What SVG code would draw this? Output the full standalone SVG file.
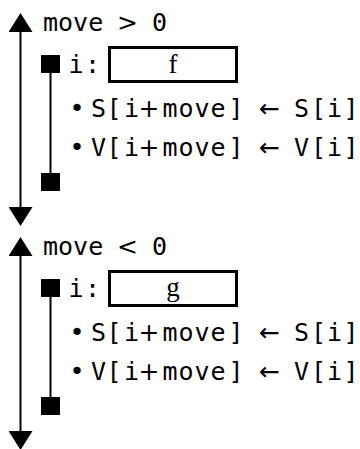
<svg xmlns="http://www.w3.org/2000/svg" width="360" height="449" viewBox="0 0 360 449">
<style>
.m{font-family:"DejaVu Sans Mono","Liberation Mono",monospace;font-size:25px;fill:#000}
.s{font-family:"DejaVu Sans",sans-serif;font-size:25px}
.v{font-family:"Liberation Serif",serif;font-size:27px;fill:#000;text-anchor:middle}
.box{fill:#fff;stroke:#000;stroke-width:3}
.sq{fill:#000}
.ln{fill:none;stroke:#000;stroke-width:2}
</style>
<defs>
<marker id="ah" markerUnits="userSpaceOnUse" markerWidth="19" markerHeight="24" refX="0" refY="12" orient="auto-start-reverse" viewBox="0 0 19 24">
<path d="M0,0 L19,12 L0,24 z" fill="#000"/>
</marker>
</defs>
<g id="connectors">
<path class="ln" d="M20.5,32 V207" marker-start="url(#ah)" marker-end="url(#ah)"/>
<path class="ln" d="M50.5,73 V173"/>
<path class="ln" d="M20.5,256 V431" marker-start="url(#ah)" marker-end="url(#ah)"/>
<path class="ln" d="M50.5,297 V397"/>
</g>
<g id="loop1">
<text class="m" y="31"><tspan x="43">move</tspan> <tspan class="s" x="117">&gt;</tspan> <tspan x="152">0</tspan></text>
</g>
<g id="iter1">
<rect class="sq" x="41" y="55" width="19" height="18"/>
<rect class="sq" x="41" y="173" width="19" height="18"/>
<text class="m" x="68.5 85" y="73">i:</text>
<rect class="box" x="109.5" y="47.5" width="127" height="34"/>
<text class="v" x="173" y="73">f</text>
</g>
<g id="stmt1a">
<text class="m" y="117"><tspan x="69.5">•</tspan> <tspan x="91 106.5 124">S[i</tspan><tspan class="s" x="138.5">+</tspan><tspan x="162.5 178.5 194.5 210.5 228.5">move]</tspan> <tspan class="s" x="259">←</tspan> <tspan x="294 311 327 343.5">S[i]</tspan></text>
</g>
<g id="stmt1b">
<text class="m" y="156"><tspan x="69.5">•</tspan> <tspan x="91 106.5 124">V[i</tspan><tspan class="s" x="138.5">+</tspan><tspan x="162.5 178.5 194.5 210.5 228.5">move]</tspan> <tspan class="s" x="259">←</tspan> <tspan x="294 311 327 343.5">V[i]</tspan></text>
</g>
<g id="loop2">
<text class="m" y="255"><tspan x="43">move</tspan> <tspan class="s" x="117">&lt;</tspan> <tspan x="152">0</tspan></text>
</g>
<g id="iter2">
<rect class="sq" x="41" y="279" width="19" height="18"/>
<rect class="sq" x="41" y="397" width="19" height="18"/>
<text class="m" x="68.5 85" y="297">i:</text>
<rect class="box" x="109.5" y="271.5" width="127" height="34"/>
<text class="v" x="173" y="296">g</text>
</g>
<g id="stmt2a">
<text class="m" y="341"><tspan x="69.5">•</tspan> <tspan x="91 106.5 124">S[i</tspan><tspan class="s" x="138.5">+</tspan><tspan x="162.5 178.5 194.5 210.5 228.5">move]</tspan> <tspan class="s" x="259">←</tspan> <tspan x="294 311 327 343.5">S[i]</tspan></text>
</g>
<g id="stmt2b">
<text class="m" y="380"><tspan x="69.5">•</tspan> <tspan x="91 106.5 124">V[i</tspan><tspan class="s" x="138.5">+</tspan><tspan x="162.5 178.5 194.5 210.5 228.5">move]</tspan> <tspan class="s" x="259">←</tspan> <tspan x="294 311 327 343.5">V[i]</tspan></text>
</g>
</svg>
